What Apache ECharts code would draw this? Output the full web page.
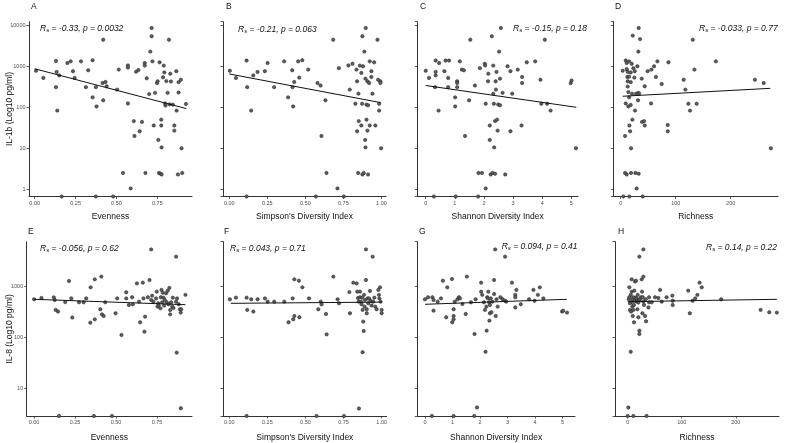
<!DOCTYPE html>
<html><head><meta charset="utf-8">
<script src="https://cdn.jsdelivr.net/npm/echarts@6/dist/echarts.min.js"></script>
<style>html,body{margin:0;padding:0;background:#fff}#c{width:787px;height:443px}</style>
</head><body><div id="c"></div>
<script>
// ---------- data ----------
const xTitles = ['Evenness', "Simpson's Diversity Index", 'Shannon Diversity Index', 'Richness'];
const yTitles = ['IL-1b (Log10 pg/ml)', 'IL-8 (Log10 pg/ml)'];
const panelLetters = ['A', 'B', 'C', 'D', 'E', 'F', 'G', 'H'];
const statsRs = ['-0.33', '-0.21', '-0.15', '-0.033', '-0.056', '0.043', '0.094', '0.14'];
const statsP = ['0.0032', '0.063', '0.18', '0.77', '0.62', '0.71', '0.41', '0.22'];
const xTicksEven = [0, 0.25, 0.5, 0.75];
const xTicksSimpson = [0, 0.25, 0.5, 0.75, 1];
const xTicksShannon = [0, 1, 2, 3, 4, 5];
const xTicksRich = [0, 100, 200];

// IL-1b (top row); undetectable values sit at the axis floor
const evenIL1b = [[0.008,780],[0.053,520],[0.13,1350],[0.134,730],[0.13,310],[0.138,83],[0.15,600],[0.165,0.667],[0.2,1200],[0.22,1320],[0.234,760],[0.244,520],[0.283,1320],[0.313,310],[0.327,800],[0.354,1400],[0.354,175],[0.374,310],[0.378,105],[0.374,0.667],[0.419,4450],[0.415,390],[0.419,148],[0.433,415],[0.44,325],[0.48,0.667],[0.504,270],[0.514,830],[0.54,2.5],[0.57,1050],[0.57,930],[0.57,124],[0.587,1.05],[0.606,46],[0.61,20],[0.62,740],[0.634,810],[0.642,26],[0.656,44],[0.677,2.5],[0.673,1200],[0.673,1040],[0.685,510],[0.7,210],[0.707,2280],[0.715,8600],[0.715,5400],[0.72,1320],[0.728,36],[0.736,225],[0.748,390],[0.752,430],[0.756,16],[0.76,2.5],[0.764,1250],[0.77,2.4],[0.774,50],[0.774,36],[0.776,10.5],[0.776,2.3],[0.785,540],[0.789,1040],[0.793,710],[0.797,124],[0.8,110],[0.805,435],[0.813,225],[0.821,4450],[0.825,118],[0.829,660],[0.833,425],[0.845,116],[0.854,36],[0.854,27],[0.866,760],[0.868,83],[0.876,2.3],[0.88,410],[0.88,230],[0.894,470],[0.898,10],[0.902,2.5],[0.925,120]];
const simpIL1b = [[0.004,780],[0.044,520],[0.114,1380],[0.118,310],[0.144,83],[0.158,600],[0.114,0.667],[0.186,730],[0.234,760],[0.252,1200],[0.295,310],[0.361,1320],[0.387,175],[0.414,800],[0.416,310],[0.42,105],[0.427,415],[0.453,1320],[0.46,530],[0.48,1400],[0.519,830],[0.58,390],[0.6,340],[0.606,20],[0.569,0.667],[0.632,148],[0.639,2.5],[0.683,4450],[0.711,1.05],[0.72,900],[0.753,0.667],[0.783,1050],[0.792,270],[0.81,1150],[0.829,122],[0.836,830],[0.84,430],[0.84,26],[0.849,215],[0.851,46],[0.847,2.5],[0.858,1040],[0.868,690],[0.868,36],[0.873,122],[0.875,5400],[0.875,2.3],[0.879,1000],[0.884,2.5],[0.888,2280],[0.893,16],[0.895,500],[0.895,10.5],[0.897,8600],[0.902,116],[0.902,50],[0.908,430],[0.908,27],[0.912,112],[0.912,2.3],[0.919,390],[0.923,1320],[0.923,36],[0.934,550],[0.934,760],[0.941,215],[0.952,1250],[0.96,36],[0.974,4450],[0.978,470],[0.985,122],[0.985,83],[0.993,430],[0.993,390],[0.998,10]];
const shanIL1b = [[0,780],[0.11,520],[0.34,1380],[0.34,730],[0.34,600],[0.32,310],[0.28,0.667],[0.46,1200],[0.44,83],[0.64,760],[0.68,1380],[0.77,520],[0.77,310],[0.8,1380],[1.03,0.667],[1.01,175],[1.01,105],[1.08,430],[1.08,310],[1.08,390],[1.17,1320],[1.24,830],[1.31,800],[1.35,20],[1.49,148],[1.53,4450],[1.69,340],[1.8,0.667],[1.81,2.5],[1.93,2.5],[1.86,900],[2.03,1150],[2.04,1050],[2.06,122],[2.06,1.05],[2.15,660],[2.2,36],[2.14,430],[2.2,16],[2.23,2.3],[2.27,5400],[2.29,2.5],[2.32,1040],[2.32,215],[2.34,122],[2.35,10.5],[2.38,46],[2.38,2.4],[2.4,430],[2.41,270],[2.43,730],[2.45,50],[2.47,27],[2.49,117],[2.52,2280],[2.55,500],[2.55,112],[2.58,8600],[2.64,225],[2.73,2.3],[2.81,1000],[2.91,760],[2.91,26],[2.97,215],[3.16,830],[3.29,36],[3.31,550],[3.31,390],[3.47,1250],[3.76,1320],[3.94,470],[3.97,122],[4.09,4450],[4.17,122],[4.29,83],[4.98,390],[5.01,450],[5.16,10]];
const richIL1b = [[3.6,780],[4.8,0.667],[7.9,20],[7.9,2.5],[9.1,1380],[9.1,124],[10.9,1200],[10.9,2.3],[10.9,850],[12.1,550],[12.7,730],[12.7,430],[12.7,320],[13.9,105],[13.9,235],[15.2,1320],[15.2,560],[15.2,175],[15.8,36],[15.8,0.667],[17,26],[18.2,710],[18.2,410],[18.2,114],[18.8,10],[18.8,2.5],[20,1150],[20.6,215],[21.2,50],[21.8,5600],[23,900],[24.8,530],[25.5,760],[26,83],[26.7,2.5],[27.9,215],[29,1.05],[30.3,1000],[31.5,148],[32.1,2280],[32.7,8600],[32.1,225],[33.3,215],[32.7,2.4],[35.2,4600],[38.2,500],[38.8,44],[40,0.667],[42.4,46],[43.6,36],[43.6,325],[49,760],[55.2,124],[55.8,830],[60.6,1000],[64,550],[66.7,1320],[74.5,370],[85.5,37],[85.5,26],[86.7,1250],[114.5,470],[117.6,270],[123,122],[126,83],[131,4450],[134,830],[138,122],[173,1320],[244,470],[260,390],[273,10]];

// IL-8 (bottom row)
const evenIL8 = [[0,556],[0.045,590],[0.12,608],[0.126,540],[0.132,345],[0.146,320],[0.152,2.86],[0.19,490],[0.213,1270],[0.227,580],[0.233,244],[0.274,486],[0.302,486],[0.318,580],[0.345,955],[0.343,194],[0.365,2.86],[0.37,225],[0.37,1370],[0.404,354],[0.41,1550],[0.414,282],[0.424,262],[0.434,486],[0.475,2.86],[0.497,296],[0.507,580],[0.533,111],[0.562,763],[0.562,580],[0.578,430],[0.598,610],[0.602,443],[0.627,1140],[0.64,500],[0.647,197],[0.663,1180],[0.667,580],[0.673,129],[0.677,254],[0.694,610],[0.704,1330],[0.714,540],[0.714,5300],[0.72,656],[0.728,500],[0.744,580],[0.748,786],[0.753,400],[0.757,464],[0.76,420],[0.77,370],[0.773,610],[0.777,850],[0.781,486],[0.785,750],[0.789,600],[0.793,420],[0.797,540],[0.805,730],[0.809,486],[0.815,822],[0.82,445],[0.825,930],[0.83,343],[0.83,282],[0.836,486],[0.842,400],[0.846,600],[0.85,375],[0.866,500],[0.872,580],[0.866,3820],[0.882,445],[0.89,354],[0.87,50],[0.894,305],[0.897,354],[0.895,4.06],[0.923,680]];
const simpIL8 = [[0.004,556],[0.044,600],[0.114,600],[0.118,345],[0.144,556],[0.158,320],[0.114,2.86],[0.186,556],[0.234,580],[0.252,500],[0.295,500],[0.361,500],[0.389,197],[0.416,580],[0.42,225],[0.427,262],[0.427,1370],[0.457,1290],[0.46,247],[0.48,955],[0.523,580],[0.584,354],[0.6,500],[0.606,443],[0.635,287],[0.639,114],[0.573,2.86],[0.683,1550],[0.711,556],[0.72,464],[0.753,2.86],[0.788,770],[0.792,296],[0.814,1180],[0.836,1140],[0.84,786],[0.845,590],[0.849,500],[0.851,4],[0.858,786],[0.858,610],[0.864,500],[0.868,445],[0.873,600],[0.875,345],[0.875,51],[0.879,203],[0.882,133],[0.884,680],[0.888,400],[0.891,540],[0.897,1330],[0.897,5300],[0.902,354],[0.902,296],[0.908,580],[0.912,464],[0.917,580],[0.923,810],[0.928,520],[0.934,420],[0.941,3820],[0.945,500],[0.952,600],[0.958,400],[0.967,354],[0.978,850],[0.982,680],[0.985,580],[0.989,955],[0.993,500],[1,345],[1,296]];
const shanIL8 = [[0,556],[0.11,610],[0.27,610],[0.31,540],[0.31,333],[0.25,2.86],[0.46,500],[0.58,580],[0.65,1290],[0.77,247],[0.81,955],[0.98,1390],[0.99,197],[1.04,354],[1.04,262],[1.04,225],[1.04,2.86],[1.08,500],[1.18,556],[1.23,610],[1.27,580],[1.36,450],[1.48,287],[1.52,1550],[1.67,486],[1.8,116],[1.84,556],[1.79,2.86],[1.89,4.2],[2.04,1180],[2.04,786],[2.08,680],[2.14,486],[2.18,345],[2.2,52],[2.23,400],[2.24,135],[2.26,610],[2.29,580],[2.3,786],[2.33,486],[2.34,212],[2.36,296],[2.36,430],[2.39,580],[2.41,310],[2.45,500],[2.51,1330],[2.51,705],[2.55,5300],[2.57,262],[2.6,556],[2.64,400],[2.74,610],[2.82,556],[2.91,3820],[2.91,520],[2.95,500],[3.16,1180],[3.28,680],[3.28,610],[3.32,850],[3.28,385],[3.48,445],[3.78,556],[3.94,850],[3.98,520],[4.1,680],[4.17,955],[4.3,580],[4.98,320],[5.02,333],[5.16,305]];
const richIL8 = [[2,556],[0,2.86],[10.5,2.86],[35,2.86],[1.2,4.2],[3,610],[3,955],[4.3,464],[4.3,345],[5.6,680],[5.6,52],[6.2,320],[7.4,786],[7.4,1370],[8,500],[8.6,400],[9.3,556],[9.3,262],[10.5,610],[10.5,345],[11.7,430],[11.7,197],[12.3,822],[13.6,1240],[13.6,520],[14.8,600],[15.4,1290],[16.7,580],[16.7,500],[17.9,354],[18.5,680],[19.8,247],[19.8,480],[21,540],[21.6,135],[21.6,116],[21.6,3820],[22.8,556],[24.7,610],[25.9,1370],[26.5,786],[27.2,296],[27.8,610],[29,5300],[29,500],[29,1550],[30.2,430],[32.1,262],[33.3,556],[34,206],[38.3,385],[39.5,610],[39.5,486],[44.4,486],[50.6,610],[56.8,590],[60,850],[63,500],[72,610],[82.7,656],[83.3,520],[83.3,430],[112,822],[115,296],[120,520],[125,580],[129,680],[133,1180],[137,955],[173,556],[246,345],[262,310],[276,305]];

// fitted trend lines (end points)
const fitA = [[0, 870], [0.927, 93]];
const fitB = [[0, 650], [0.995, 130]];
const fitC = [[0, 340], [5.17, 100]];
const fitD = [[3.6, 186], [272, 290]];
const fitE = [[0, 556], [0.923, 436]];
const fitF = [[0.01, 464], [1.0, 490]];
const fitG = [[0, 444], [5.15, 556]];
const fitH = [[0, 500], [276, 556]];

const panelData = [evenIL1b, simpIL1b, shanIL1b, richIL1b, evenIL8, simpIL8, shanIL8, richIL8];
const panelFits = [fitA, fitB, fitC, fitD, fitE, fitF, fitG, fitH];
const panelTicks = [xTicksEven, xTicksSimpson, xTicksShannon, xTicksRich, xTicksEven, xTicksSimpson, xTicksShannon, xTicksRich];

// ---------- layout ----------
const grids = [
  {left: 29, top: 21.7, width: 163, height: 174.8},
  {left: 223, top: 21.7, width: 163, height: 174.8},
  {left: 417.3, top: 21.7, width: 160.7, height: 174.8},
  {left: 613.3, top: 21.7, width: 164.7, height: 174.8},
  {left: 26.7, top: 241.7, width: 165.3, height: 174.3},
  {left: 223, top: 241.7, width: 163.7, height: 174.3},
  {left: 417.3, top: 241.7, width: 157.7, height: 174.3},
  {left: 615, top: 241.7, width: 164, height: 174.3}
];
const xRanges = [[-0.035, 0.962], [-0.041, 1.03], [-0.29, 5.23], [-13.5, 286],
                 [-0.045, 0.963], [-0.041, 1.033], [-0.28, 5.45], [-23.5, 280]];
const yRanges = [[0.667, 12240], [2.86, 7500]];
const xDecimals = [2, 2, 0, 0, 2, 2, 0, 0];
const statsPos = [[40, 29], [238, 30], [513, 29], [699, 29], [40, 249], [230, 249], [501.7, 247], [706, 248]];
const letterPos = [[31, 7], [226, 7], [420, 7], [615, 7], [28, 232], [224, 232], [419, 232], [618, 232]];

const FONT = '"Liberation Sans", Arial, Helvetica, sans-serif';
const axisCol = '#333333';
const labelCol = '#4d4d4d';

const option = {
  animation: false,
  backgroundColor: '#fff',
  textStyle: {fontFamily: FONT},
  grid: grids.map(g => Object.assign({containLabel: false}, g)),
  xAxis: grids.map((g, i) => ({
    type: 'value', gridIndex: i,
    min: xRanges[i][0], max: xRanges[i][1],
    name: xTitles[i % 4], nameLocation: 'middle', nameGap: i < 4 ? 16 : 17,
    nameTextStyle: {fontSize: 8.5, color: '#111', fontFamily: FONT},
    axisLine: {show: true, onZero: false, lineStyle: {color: axisCol, width: 1}},
    axisTick: {show: true, length: 2.5, lineStyle: {color: axisCol, width: 0.8}, customValues: panelTicks[i]},
    axisLabel: {show: true, fontSize: 5.5, color: labelCol, margin: 3.5, fontFamily: FONT,
      customValues: panelTicks[i],
      formatter: (v) => Number(v).toFixed(xDecimals[i])},
    splitLine: {show: false}
  })),
  yAxis: grids.map((g, i) => {
    const r = yRanges[i < 4 ? 0 : 1];
    return {
      type: 'log', logBase: 10, gridIndex: i,
      min: r[0], max: r[1],
      axisLine: {show: true, onZero: false, lineStyle: {color: axisCol, width: 1}},
      axisTick: {show: true, length: 2.5, lineStyle: {color: axisCol, width: 0.8}},
      axisLabel: {show: i === 0 || i === 4, fontSize: 5.5, color: labelCol, margin: 3.5, fontFamily: FONT,
        showMinLabel: false, showMaxLabel: false,
        formatter: (v) => String(Math.round(v))},
      splitLine: {show: false}
    };
  }),
  series: [],
  graphic: []
};

panelData.forEach((d, i) => {
  option.series.push({
    type: 'scatter', xAxisIndex: i, yAxisIndex: i, data: d, clip: false,
    symbol: 'circle', symbolSize: 3.4,
    itemStyle: {color: '#5c5c5c', borderColor: '#222', borderWidth: 0.5, opacity: 1},
    z: 3
  });
  option.series.push({
    type: 'line', xAxisIndex: i, yAxisIndex: i, data: panelFits[i],
    symbol: 'none', lineStyle: {color: '#111', width: 1}, z: 4
  });
});

panelLetters.forEach((L, i) => {
  option.graphic.push({
    type: 'text', x: letterPos[i][0], y: letterPos[i][1],
    style: {text: L, fontSize: 8.5, fill: '#111', font: '8.5px ' + FONT, verticalAlign: 'middle', align: 'left'}
  });
  option.graphic.push({
    type: 'text', x: statsPos[i][0], y: statsPos[i][1],
    style: {
      text: '{r|R}{s|s}{r| = ' + statsRs[i] + ', p = ' + statsP[i] + '}',
      verticalAlign: 'middle', align: 'left',
      rich: {
        r: {fontSize: 8.5, fontStyle: 'italic', fontFamily: FONT, fill: '#111', color: '#111'},
        s: {fontSize: 6, fontStyle: 'italic', fontFamily: FONT, fill: '#111', color: '#111', padding: [3, 0, 0, 0]}
      }
    }
  });
});

// y-axis titles
[[10, 109], [10, 329]].forEach((p, k) => {
  option.graphic.push({
    type: 'text', x: p[0], y: p[1], rotation: Math.PI / 2,
    style: {text: yTitles[k], fontSize: 8.5, font: '8.5px ' + FONT, fill: '#111', align: 'center', verticalAlign: 'middle'}
  });
});

const chart = echarts.init(document.getElementById('c'), null, {renderer: 'canvas'});
chart.setOption(option);
</script>
</body></html>
